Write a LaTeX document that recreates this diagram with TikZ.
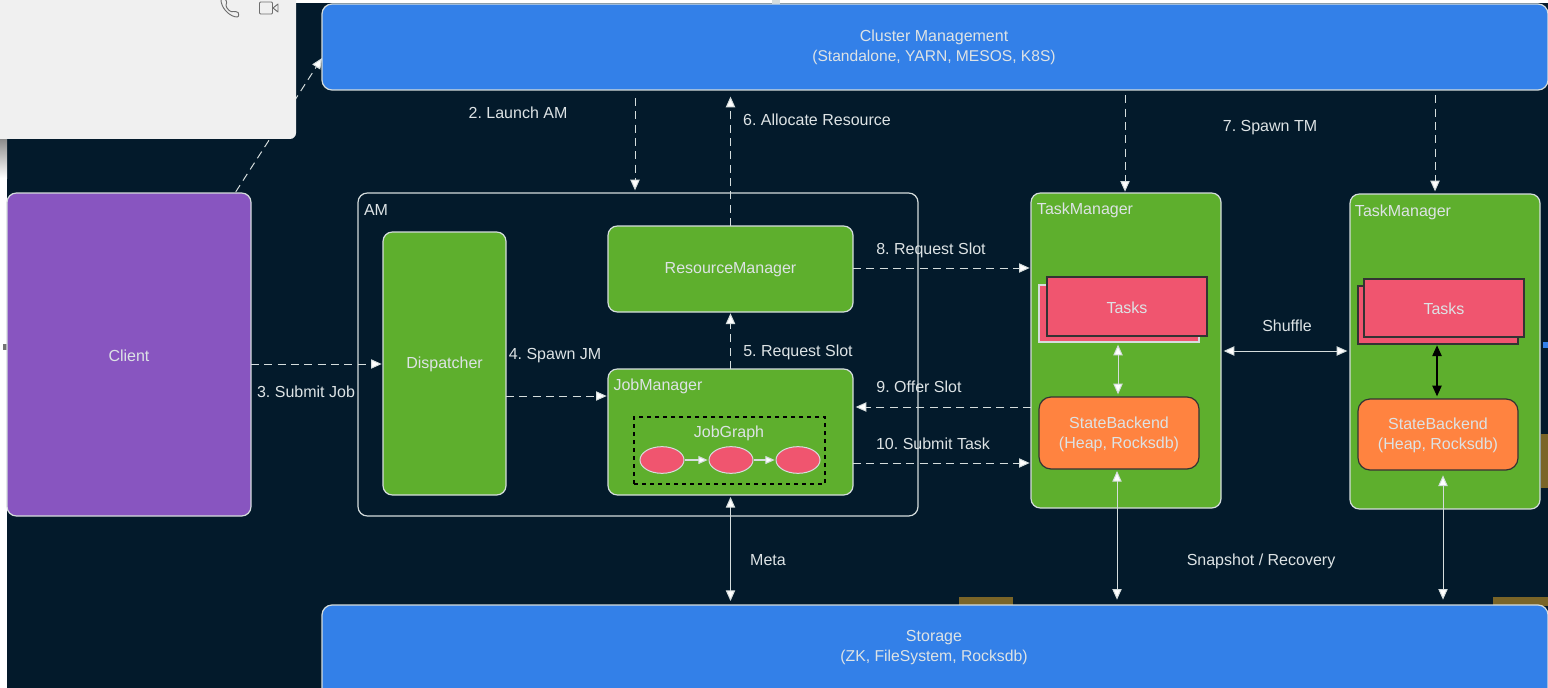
\documentclass[tikz,border=0pt]{standalone}
\usepackage{fontspec}
\setmainfont{Liberation Sans}
\usetikzlibrary{arrows.meta,calc,shapes.geometric}
\definecolor{bgdark}{HTML}{031A2B}
\definecolor{panelgray}{HTML}{F0F0F0}
\definecolor{iconline}{HTML}{6E6E6E}
\definecolor{boxblue}{HTML}{3380E8}
\definecolor{boxpurple}{HTML}{8855C0}
\definecolor{boxgreen}{HTML}{5EAF2D}
\definecolor{boxpink}{HTML}{F0556F}
\definecolor{boxorange}{HTML}{FF8340}
\definecolor{edgelight}{HTML}{D5DDDD}
\definecolor{txtlight}{HTML}{DDE3E5}
\definecolor{gold}{HTML}{7A6528}
\tikzset{
  base/.style={inner sep=0pt,outer sep=0pt,text=txtlight,align=center,font=\fontsize{12}{15}\selectfont\frenchspacing},
  lbl/.style={base},
  bluebox/.style={base,fill=boxblue,draw=edgelight,line width=0.9pt,rounded corners=7.5pt},
  purplebox/.style={base,fill=boxpurple,draw=edgelight,line width=0.9pt,rounded corners=7pt},
  greenbox/.style={base,fill=boxgreen,draw=edgelight,line width=0.9pt,rounded corners=7pt},
  outline/.style={base,draw=edgelight,line width=0.9pt,rounded corners=7pt},
  taskbox/.style={base,fill=boxpink,draw=black!80,line width=0.9pt},
  taskback/.style={base,fill=boxpink,draw=#1,line width=0.9pt},
  statebox/.style={base,fill=boxorange,draw=black!80,line width=0.9pt,rounded corners=9pt},
  graphbox/.style={base,draw=black,dashed,line width=0.9pt},
  oval/.style={base,ellipse,fill=boxpink,draw=edgelight,line width=0.75pt,minimum width=33pt,minimum height=20pt},
  dasharrow/.style={draw=edgelight,line width=0.75pt,dash pattern=on 6pt off 4pt,-{Triangle[length=8pt,width=7pt,fill=white]}},
  solidtwo/.style={draw=edgelight,line width=0.75pt,{Triangle[length=8pt,width=7pt,fill=white]}-{Triangle[length=8pt,width=7pt,fill=white]}},
  blacktwo/.style={draw=black,line width=0.85pt,{Triangle[length=8pt,width=7pt,fill=black]}-{Triangle[length=8pt,width=7pt,fill=black]}},
  smallarrow/.style={draw=edgelight,line width=0.85pt,-{Triangle[length=7pt,width=6pt,fill=white]}},
  handle/.style={fill=edgelight,draw=none,inner sep=0pt,minimum size=6pt},
}
% box drawn first, its caption set as a node of its own a little lower, as in the reference
\newcommand{\bx}[7]{\node[#2,minimum width={(#5-#3)*0.75pt},minimum height={(#6-#4)*0.75pt}] (#1) at ({(#3+#5)/2},{(#4+#6)/2}) {};
  \if\relax\detokenize{#7}\relax\else\node[lbl,yshift=-0.75pt] (#1txt) at (#1.center) {#7};\fi}
\begin{document}
\begin{tikzpicture}[x=0.75pt,y=-0.75pt]
\useasboundingbox (0,0) rectangle (1548,688);
% backdrop
\fill[white] (0,0) rectangle (1548,688);
\fill[bgdark] (7,3) rectangle (1548,688);
\shade[top color=black!45,bottom color=white] (0,139) rectangle (7,178);
\fill[gold] (959,597) rectangle (1013,606);
\fill[gold] (1493,597) rectangle (1548,606);
\fill[gold] (1541,434) rectangle (1548,488);
% helper positions for the connectors
\coordinate (xa) at (635,0);
\coordinate (xb) at (1125,0);
\coordinate (xc) at (1435,0);
\coordinate (xd) at (1117,0);
\coordinate (xe) at (1443,0);
\coordinate (xf) at (1118,0);
\coordinate (xg) at (1437,0);
\coordinate (xh) at (235,0);
\coordinate (ya) at (0,364);
\coordinate (yb) at (0,396);
\coordinate (yc) at (0,268);
\coordinate (yd) at (0,407);
\coordinate (ye) at (0,463);
\coordinate (yf) at (0,351);
\coordinate (yh) at (0,58);
% handles
\node[handle] (h1) at (776,4) {};
\node[handle] (h2) at (776,686) {};
\node[handle,minimum size=5pt,fill=black!55] (h3) at (6,347) {};
\node[handle,minimum size=5pt,fill=boxblue] (h4) at (1546,345) {};
% boxes
\bx{cluster}{bluebox}{322}{4}{1548}{90}{}
\node[lbl] (clustertxt) at (934,47) {Cluster Management\\\fontsize{11.7}{15}\selectfont(Standalone, YARN, MESOS, K8S)};
\bx{storage}{bluebox}{322}{605}{1548}{700}{}
\node[lbl] (storagetxt) at (934,648) {Storage\\\fontsize{11.8}{15}\selectfont(ZK, FileSystem, Rocksdb)};
\bx{client}{purplebox}{7}{193}{251}{516}{Client}
\bx{am}{outline}{358}{193}{918}{516}{}
\node[lbl] (amtxt) at (376,209.5) {AM};
\bx{disp}{greenbox}{383}{232}{506}{495}{Dispatcher}
\bx{rm}{greenbox}{608}{226}{853}{312}{ResourceManager}
\bx{jm}{greenbox}{608}{369}{853}{495}{}
\node[lbl] (jmtxt) at (658,386) {JobManager};
\bx{jg}{graphbox}{634}{417}{825}{484}{}
\node[lbl] (jgtxt) at (729,433) {JobGraph};
\node[oval] (e1) at (662,460) {};
\node[oval] (e2) at (731,460) {};
\node[oval] (e3) at (798,460) {};
\bx{tm1}{greenbox}{1031}{193}{1221}{508}{}
\node[lbl] (tm1txt) at (1085,210) {TaskManager};
\bx{tm2}{greenbox}{1350}{194}{1540}{509}{}
\node[lbl] (tm2txt) at (1403,212) {TaskManager};
\bx{tb1}{taskback=edgelight}{1039}{285}{1199}{342}{}
\bx{t1}{taskbox}{1047}{277}{1207}{336}{Tasks}
\bx{tb2}{taskback=black!80}{1358}{286}{1518}{344}{}
\bx{t2}{taskbox}{1364}{279}{1524}{337}{Tasks}
\bx{s1}{statebox}{1039}{397}{1199}{469}{StateBackend\\(Heap, Rocksdb)}
\bx{s2}{statebox}{1358}{399}{1518}{470}{StateBackend\\(Heap, Rocksdb)}
% connectors
\draw[dasharrow,shorten <=1pt] (client.north -| xh) -- (cluster.west |- yh);
\draw[dasharrow,shorten <=6pt,shorten >=2pt] (cluster.south -| xa) -- (am.north -| xa);
\draw[dasharrow,shorten >=5pt] (rm.north) -- (cluster.south -| rm.north);
\draw[dasharrow,shorten <=4pt,shorten >=1pt] (cluster.south -| xb) -- (tm1.north -| xb);
\draw[dasharrow,shorten <=4pt,shorten >=2pt] (cluster.south -| xc) -- (tm2.north -| xc);
\draw[dasharrow,shorten >=1pt] (client.east |- ya) -- (disp.west |- ya);
\draw[dasharrow,shorten >=1pt] (disp.east |- yb) -- (jm.west |- yb);
\draw[dasharrow,shorten >=1pt] (jm.north) -- (rm.south);
\draw[dasharrow,shorten >=1pt] (rm.east |- yc) -- (tm1.west |- yc);
\draw[dasharrow,shorten >=2pt] (tm1.west |- yd) -- (jm.east |- yd);
\draw[dasharrow,shorten >=1pt] (jm.east |- ye) -- (tm1.west |- ye);
\draw[solidtwo,shorten <=2pt,shorten >=2pt] (tm1.east |- yf) -- (tm2.west |- yf);
\draw[solidtwo,shorten <=2pt,shorten >=2pt] (tb1.south -| xf) -- (s1.north -| xf);
\draw[blacktwo,shorten <=1pt,shorten >=2pt] (tb2.south -| xg) -- (s2.north -| xg);
\draw[solidtwo,shorten <=1.5pt,shorten >=3pt] (jm.south) -- (storage.north -| jm.south);
\draw[solidtwo,shorten <=1.5pt,shorten >=4pt] (s1.south -| xd) -- (storage.north -| xd);
\draw[solidtwo,shorten <=4pt,shorten >=4pt] (s2.south -| xe) -- (storage.north -| xe);
\draw[smallarrow,shorten <=1pt,shorten >=1pt] (e1) -- (e2);
\draw[smallarrow,shorten <=1pt,shorten >=1pt] (e2) -- (e3);
% connector labels
\node[lbl] (l2) at (518,113) {2. Launch AM};
\node[lbl] (l6) at (817,120) {6. Allocate Resource};
\node[lbl] (l7) at (1270,128) {7. Spawn TM};
\node[lbl] (l3) at (306,392) {3. Submit Job};
\node[lbl] (l4) at (555,356) {4. Spawn JM};
\node[lbl] (l5) at (798,352) {5. Request Slot};
\node[lbl] (l8) at (931,250) {8. Request Slot};
\node[lbl] (l9) at (919,387) {9. Offer Slot};
\node[lbl] (l10) at (933,444) {10. Submit Task};
\node[lbl] (ls) at (1287,326) {Shuffle};
\node[lbl] (lm) at (768,560) {Meta};
\node[lbl] (lr) at (1261,561) {Snapshot / Recovery};
% overlapping window
\fill[panelgray,rounded corners=4.5pt] (-12,-12) rectangle (296,139);
% call icons
\draw[iconline,line width=0.7pt,rounded corners=1pt] (221,0) .. controls (221,7) and (228,15) .. (236,17) .. controls (239,17) and (239,13) .. (237,12) .. controls (234,11) and (232,12) .. (230,11) .. controls (227,9) and (226,6) .. (226,4) .. controls (227,2) and (226,0) .. (225,-1);
\draw[iconline,line width=0.7pt,rounded corners=0.8pt] (259.5,2) rectangle (272.5,14);
\draw[iconline,line width=0.7pt,line join=round] (273,8) -- (278,4) -- (278,12) -- cycle;
\end{tikzpicture}
\end{document}
